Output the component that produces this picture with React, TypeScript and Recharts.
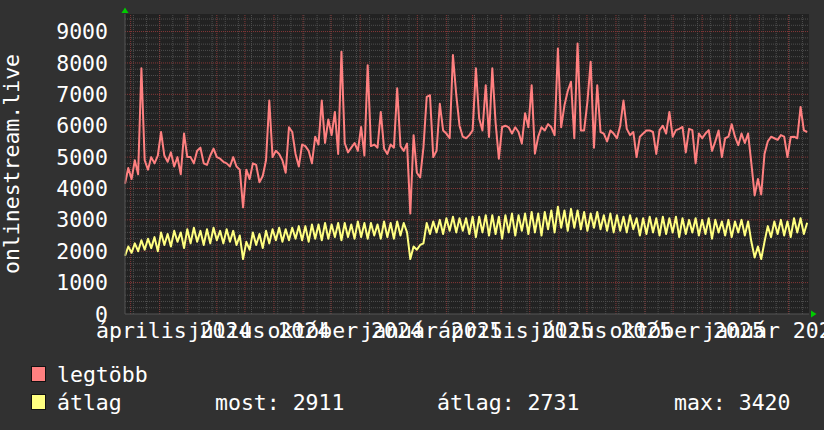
import { LineChart, Line, XAxis, YAxis, CartesianGrid, ReferenceLine } from 'recharts'

// daily max and average, one reading every 3.5 days from 2024-02-24
const maxVals = [
  4150, 4650, 4300, 4900, 4450, 7830, 4900, 4600, 5000, 4800,
  5050, 5800, 5050, 4850, 5150, 4700, 5000, 4450, 5750, 5000,
  5000, 4800, 5200, 5300, 4800, 4750, 5050, 5270, 5000, 4950,
  4850, 4800, 4700, 5000, 4700, 4600, 3400, 4600, 4300, 4800,
  4750, 4200, 4400, 4900, 6800, 5000, 5200, 5100, 4900, 4500,
  5950, 5800, 5100, 4700, 5400, 5350, 5200, 4800, 5650, 5400,
  6800, 5450, 6200, 5700, 6440, 5100, 8360, 5450, 5150, 5300,
  5450, 5200, 5960, 5050, 7930, 5350, 5400, 5300, 6440, 5270,
  5100, 5400, 5300, 7190, 5350, 5200, 5430, 3200, 5700, 4500,
  4350, 5300, 6920, 6970, 5000, 5200, 6700, 5850, 5750, 5600,
  8250, 7000, 6000, 5650, 5600, 5700, 5850, 7830, 6230, 5850,
  7290, 5640, 7830, 6100, 4950, 5960, 6000, 5950, 5750, 5950,
  5800, 5430, 6400, 5950, 7290, 5110, 5650, 5950, 5850, 6050,
  5950, 5700, 8460, 5950, 6650, 7100, 7400, 5600, 8620, 5850,
  5850, 6760, 8040, 5300, 7290, 5800, 5750, 5500, 5850, 5750,
  5600, 6000, 6800, 5900, 5700, 5800, 5000, 5650, 5750, 5850,
  5850, 5800, 5100, 5860, 6000, 5750, 6440, 5650, 5860, 5900,
  5960, 5150, 5900, 5860, 4800, 5750, 5600, 5750, 5860, 5200,
  5500, 5850, 5000, 5600, 5650, 6050, 5650, 5380, 5750, 5450,
  5750, 4800, 3780, 4300, 3810, 5100, 5500, 5650, 5600, 5550,
  5700, 5650, 5000, 5640, 5650, 5600, 6600, 5850, 5800,
]

const avgVals = [
  1850, 2150, 1950, 2250, 2000, 2350, 2050, 2400, 2100, 2450,
  2000, 2600, 2200, 2550, 2150, 2650, 2300, 2600, 2100, 2700,
  2250, 2750, 2300, 2650, 2200, 2700, 2250, 2750, 2350, 2650,
  2250, 2700, 2300, 2650, 2200, 2500, 1750, 2300, 2050, 2600,
  2200, 2550, 2100, 2650, 2250, 2700, 2350, 2750, 2300, 2700,
  2350, 2750, 2400, 2800, 2350, 2800, 2300, 2850, 2400, 2850,
  2350, 2900, 2400, 2850, 2450, 2900, 2350, 2900, 2450, 2850,
  2400, 2950, 2450, 2900, 2400, 2900, 2500, 2850, 2400, 2950,
  2450, 2900, 2400, 2950, 2500, 2900, 2600, 1750, 2150, 2050,
  2200, 2250, 2900, 2550, 2950, 2600, 3000, 2550, 3050, 2650,
  3100, 2600, 3050, 2650, 3050, 2550, 3100, 2450, 3100, 2600,
  3150, 2500, 3150, 2550, 3100, 2400, 3150, 2600, 3200, 2500,
  3150, 2650, 3200, 2550, 3250, 2600, 3200, 2500, 3250, 2700,
  3300, 2600, 3420, 2750, 3300, 2650, 3350, 2750, 3300, 2700,
  3250, 2650, 3200, 2750, 3250, 2700, 3150, 2650, 3200, 2600,
  3150, 2650, 3100, 2600, 3150, 2700, 3050, 2500, 3050, 2550,
  3100, 2600, 3050, 2500, 3100, 2550, 3050, 2600, 3100, 2450,
  3050, 2550, 3000, 2600, 3050, 2500, 3000, 2550, 3050, 2400,
  3000, 2600, 2950, 2500, 3000, 2450, 2950, 2600, 3000, 2500,
  2950, 2300, 1800, 2150, 1750, 2300, 2800, 2450, 2950, 2550,
  3000, 2500, 2950, 2450, 3050, 2600, 3050, 2550, 2910,
]

const monthStarts = [6, 37, 67, 98, 128, 159, 190, 220, 251, 281, 312, 343, 371, 402, 432, 463, 493, 524, 555, 585, 616, 646, 677, 708]
const labelDays = [52, 143, 235, 327, 417, 508, 600, 692]
const labelNames = ['április 2024', 'július 2024', 'október 2024', 'január 2025', 'április 2025', 'július 2025', 'október 2025', 'január 2026']
const yTicks = [0, 1000, 2000, 3000, 4000, 5000, 6000, 7000, 8000, 9000]

const STEP = 3.5
const data = maxVals.map((v, i) => ({ day: i * STEP, max: v, avg: avgVals[i] }))

const minorY = Array.from({ length: 47 }, (_, i) => (i + 1) * 200).filter((v) => v % 1000 !== 0)
const minorX = Array.from({ length: 52 }, (_, i) => 9 + i * 14)

const FONT = '"DejaVu Sans Mono", monospace'
const BG = '#313131'
const MINOR = '#4e4e4e'
const MAJOR = '#863838'

export default function App() {
  const tickStyle = { fill: '#ffffff', fontSize: 21.5, fontFamily: FONT }
  return (
    <div style={{ position: 'absolute', left: 0, top: 0, width: 824, height: 430, background: BG, overflow: 'hidden' }}>
      <LineChart width={824} height={350} data={data} margin={{ top: 14, right: 15, bottom: 0, left: 0 }}>
        <CartesianGrid horizontal={false} vertical={false} fill="#222222" />
        {minorY.map((v) => (
          <ReferenceLine key={`my${v}`} y={v} stroke={MINOR} strokeDasharray="1 1" />
        ))}
        {minorX.map((v) => (
          <ReferenceLine key={`mx${v}`} x={v} stroke={MINOR} strokeDasharray="1 1" />
        ))}
        {yTicks.slice(1).map((v) => (
          <ReferenceLine key={`My${v}`} y={v} stroke={MAJOR} strokeDasharray="1 1" />
        ))}
        {monthStarts.map((v) => (
          <ReferenceLine key={`Mx${v}`} x={v} stroke={MAJOR} strokeDasharray="1 1" />
        ))}
        <XAxis
          dataKey="day"
          type="number"
          domain={[0, 730]}
          ticks={labelDays}
          interval={0}
          tickFormatter={(v) => labelNames[labelDays.indexOf(v)]}
          tick={tickStyle}
          tickSize={0}
          tickMargin={9}
          height={36}
          axisLine={{ stroke: '#555555' }}
        />
        <YAxis
          type="number"
          domain={[0, 9560]}
          ticks={yTicks}
          interval={0}
          tick={tickStyle}
          tickSize={0}
          tickMargin={17}
          width={125}
          axisLine={{ stroke: '#555555' }}
        />
        <Line dataKey="max" stroke="#ff8080" strokeWidth={2} dot={false} isAnimationActive={false} strokeLinejoin="round" />
        <Line dataKey="avg" stroke="#ffff80" strokeWidth={2} dot={false} isAnimationActive={false} strokeLinejoin="round" />
      </LineChart>
      <svg width={824} height={430} style={{ position: 'absolute', left: 0, top: 0, pointerEvents: 'none' }}>
        <polygon points="121.5,13 128.5,13 125,7.5" fill="#00cc00" />
        <polygon points="811,310.5 811,317.5 816.5,314" fill="#00cc00" />
        <text transform="translate(18.5,164) rotate(-90)" textAnchor="middle" fill="#ffffff" fontSize={21.5} fontFamily={FONT}>
          onlinestream.live
        </text>
        <rect x={31.5} y={366.5} width={14} height={15} fill="#ff8080" stroke="#111" />
        <rect x={31.5} y={394.5} width={14} height={15} fill="#ffff80" stroke="#111" />
        <g fill="#ffffff" fontSize={21.5} fontFamily={FONT}>
          <text x={57} y={381.5}>legtöbb</text>
          <text x={57} y={409.5}>átlag</text>
          <text x={215} y={409.5}>most: 2911</text>
          <text x={437} y={409.5}>átlag: 2731</text>
          <text x={674} y={409.5}>max: 3420</text>
        </g>
      </svg>
    </div>
  )
}
